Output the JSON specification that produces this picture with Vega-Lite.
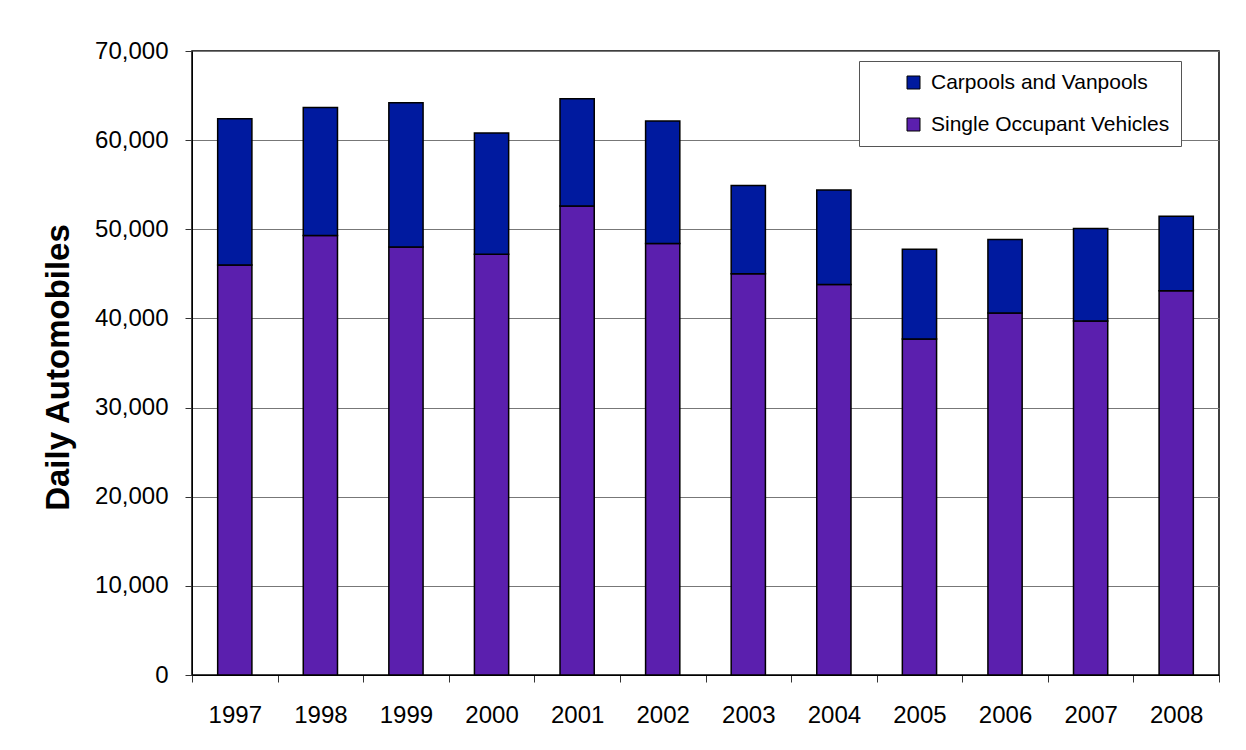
{
  "$schema": "https://vega.github.io/schema/vega-lite/v6.json",
  "description": "Daily automobiles by type, 1997-2008, stacked bars.",
  "width": 1027,
  "height": 624,
  "autosize": {"type": "none"},
  "padding": {"left": 192, "top": 51, "right": 27, "bottom": 75},
  "background": "white",
  "data": {
    "values": [
      {"year": "1997", "type": "Single Occupant Vehicles", "autos": 46000},
      {"year": "1997", "type": "Carpools and Vanpools", "autos": 16400},
      {"year": "1998", "type": "Single Occupant Vehicles", "autos": 49300},
      {"year": "1998", "type": "Carpools and Vanpools", "autos": 14350},
      {"year": "1999", "type": "Single Occupant Vehicles", "autos": 48000},
      {"year": "1999", "type": "Carpools and Vanpools", "autos": 16200},
      {"year": "2000", "type": "Single Occupant Vehicles", "autos": 47200},
      {"year": "2000", "type": "Carpools and Vanpools", "autos": 13600},
      {"year": "2001", "type": "Single Occupant Vehicles", "autos": 52600},
      {"year": "2001", "type": "Carpools and Vanpools", "autos": 12050},
      {"year": "2002", "type": "Single Occupant Vehicles", "autos": 48400},
      {"year": "2002", "type": "Carpools and Vanpools", "autos": 13750},
      {"year": "2003", "type": "Single Occupant Vehicles", "autos": 45000},
      {"year": "2003", "type": "Carpools and Vanpools", "autos": 9900},
      {"year": "2004", "type": "Single Occupant Vehicles", "autos": 43800},
      {"year": "2004", "type": "Carpools and Vanpools", "autos": 10600},
      {"year": "2005", "type": "Single Occupant Vehicles", "autos": 37700},
      {"year": "2005", "type": "Carpools and Vanpools", "autos": 10050},
      {"year": "2006", "type": "Single Occupant Vehicles", "autos": 40600},
      {"year": "2006", "type": "Carpools and Vanpools", "autos": 8250},
      {"year": "2007", "type": "Single Occupant Vehicles", "autos": 39700},
      {"year": "2007", "type": "Carpools and Vanpools", "autos": 10400},
      {"year": "2008", "type": "Single Occupant Vehicles", "autos": 43100},
      {"year": "2008", "type": "Carpools and Vanpools", "autos": 8350}
    ]
  },
  "mark": {"type": "bar", "stroke": "black", "strokeWidth": 1.5, "width": {"band": 0.4}},
  "encoding": {
    "x": {
      "field": "year",
      "type": "ordinal",
      "scale": {"paddingInner": 0, "paddingOuter": 0},
      "axis": {
        "title": null,
        "labelAngle": 0,
        "tickBand": "extent",
        "labelFontSize": 24,
        "labelPadding": 21,
        "labelColor": "black",
        "tickSize": 7,
        "tickColor": "#333",
        "domainColor": "black",
        "grid": false
      }
    },
    "y": {
      "field": "autos",
      "type": "quantitative",
      "stack": "zero",
      "scale": {"domain": [0, 70000], "nice": false},
      "axis": {
        "title": "Daily Automobiles",
        "titleFontSize": 33,
        "titleFontWeight": "bold",
        "titleColor": "black",
        "titlePadding": 19,
        "titleY": 316,
        "values": [0, 10000, 20000, 30000, 40000, 50000, 60000, 70000],
        "format": ",.0f",
        "labelFontSize": 24,
        "labelPadding": 17,
        "labelColor": "black",
        "tickSize": 7,
        "tickColor": "#333",
        "domainColor": "black",
        "gridColor": "#777",
        "gridOpacity": 1
      }
    },
    "color": {
      "field": "type",
      "type": "nominal",
      "scale": {
        "domain": ["Carpools and Vanpools", "Single Occupant Vehicles"],
        "range": ["#001A9F", "#5B1FAE"]
      },
      "legend": {
        "title": null,
        "orient": "none",
        "legendX": 667,
        "legendY": 10,
        "fillColor": "white",
        "strokeColor": "#555",
        "padding": 11,
        "symbolOffset": 33,
        "symbolType": "square",
        "symbolSize": 169,
        "symbolStrokeColor": "black",
        "symbolStrokeWidth": 1,
        "labelFontSize": 21,
        "labelLimit": 400,
        "labelColor": "black",
        "labelOffset": 7,
        "rowPadding": 20
      }
    },
    "order": {"field": "type", "sort": "descending"}
  },
  "config": {
    "font": "Liberation Sans",
    "view": {"stroke": "black", "strokeWidth": 1.5}
  }
}
